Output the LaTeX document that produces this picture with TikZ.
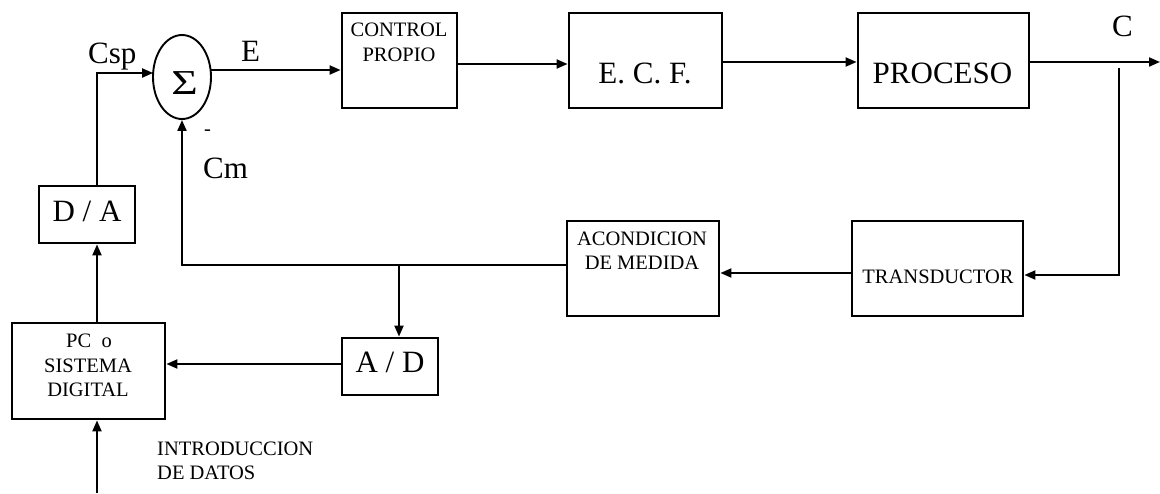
\documentclass[tikz,border=0pt]{standalone}
\usepackage{fontspec}
\usepackage{graphicx}
\setmainfont{Liberation Serif}
\usetikzlibrary{arrows.meta,shapes.geometric,calc}

\tikzset{
  blk/.style={draw, line width=2.8pt, minimum width=#1, inner sep=0pt},
  sumnode/.style={draw, ellipse, line width=1.9pt, minimum width=58pt, minimum height=84pt, inner sep=0pt},
  link/.style={line width=2pt, -{Triangle[length=11pt,width=9pt]}},
  big/.style={font=\fontsize{31}{31}\selectfont, inner sep=0pt},
  small/.style={font=\fontsize{20.5}{20.5}\selectfont, inner sep=0pt},
}

\begin{document}
\begin{tikzpicture}[x=1pt,y=-1pt]
\useasboundingbox (0,0) rectangle (1160,493);

% blocks of the forward path
\node[sumnode] (sig) at (182,77) {};
\node[blk=115pt, minimum height=95pt] (ctrl) at (399.5,60.5) {};
\node[blk=153pt, minimum height=95pt] (ecf) at (645.5,60.5) {};
\node[blk=171pt, minimum height=95pt] (proc) at (943.5,60.5) {};

% blocks of the measuring path
\node[blk=152pt, minimum height=95pt] (acond) at (643,268.5) {};
\node[blk=171pt, minimum height=95pt] (trans) at (937.5,268.5) {};

% digital part
\node[blk=96pt, minimum height=57pt] (da) at (87,214.5) {};
\node[blk=96pt, minimum height=57pt] (ad) at (390,366.5) {};
\node[blk=153pt, minimum height=96pt] (pc) at (88.5,371) {};

% texts inside the blocks
\node[anchor=base, inner sep=0pt, font=\fontsize{35}{35}\selectfont] (sigt) at (184.5,94.5) {\scalebox{1.3}[1]{Σ}};
\node[small, anchor=base] (ctrl1) at (399,36) {CONTROL};
\node[small, anchor=base] (ctrl2) at (399,61) {PROPIO};
\node[big, anchor=base] (ecft) at (645,83) {E. C. F.};
\node[big, anchor=base] (proct) at (942.5,83) {PROCESO};
\node[small, anchor=base] (acond1) at (642,245) {ACONDICION};
\node[small, anchor=base] (acond2) at (642,269) {DE MEDIDA};
\node[small, anchor=base] (transt) at (938,283) {TRANSDUCTOR};
\node[big, anchor=base] (dat) at (87,221) {D / A};
\node[big, anchor=base] (adt) at (390,372) {A / D};
\node[small, anchor=base] (pc1) at (89,347) {PC~~o};
\node[small, anchor=base] (pc2) at (88,372) {SISTEMA};
\node[small, anchor=base] (pc3) at (88,396) {DIGITAL};

% signal labels
\node[big, anchor=base west] (csp) at (88,63) {Csp};
\node[big, anchor=base west] (elab) at (241,61) {E};
\node[small, anchor=center] (minus) at (207.5,133) {-};
\node[big, anchor=base west] (cm) at (203,178) {Cm};
\node[big, anchor=base west] (clab) at (1112,36) {C};
\node[small, anchor=base west] (intro1) at (157,455) {INTRODUCCION};
\node[small, anchor=base west] (intro2) at (157,479) {DE DATOS};

% helper points
\coordinate (col) at (97,0);
\coordinate (sigin) at ($(sig.center)+(-28.9,-4)$);
\coordinate (sigout) at ($(sig.center)+(28.6,-7)$);
\coordinate (out) at (1160,62);
\coordinate (tap) at (1119,68);
\coordinate (branch) at (399,265);
\coordinate (feed) at (97,493);

% forward path
\draw[link] (da.north -| col) -- (col |- sigin) -- (sigin);
\draw[link] (sigout) -- (sigout -| ctrl.west);
\draw[link] ([yshift=-3.5pt]ctrl.east) -- ([yshift=-3.5pt]ecf.west);
\draw[link] ([yshift=-1.5pt]ecf.east) -- ([yshift=-1.5pt]proc.west);
\draw[link] ([yshift=-1.5pt]proc.east) -- (out);

% measuring path
\draw[link] (tap) |- ([yshift=-6.5pt]trans.east);
\draw[link] ([yshift=-4.5pt]trans.west) -- ([yshift=-4.5pt]acond.east);
\draw[link] ([yshift=3.5pt]acond.west) -| (sig.south);
\draw[link] (branch) -- (branch |- ad.north);

% digital path
\draw[link] ([yshift=2.5pt]ad.west) -- ([yshift=2.5pt]ad.west -| pc.east);
\draw[link] (pc.north -| col) -- (da.south -| col);
\draw[link] (feed) -- (pc.south -| col);
\end{tikzpicture}
\end{document}
